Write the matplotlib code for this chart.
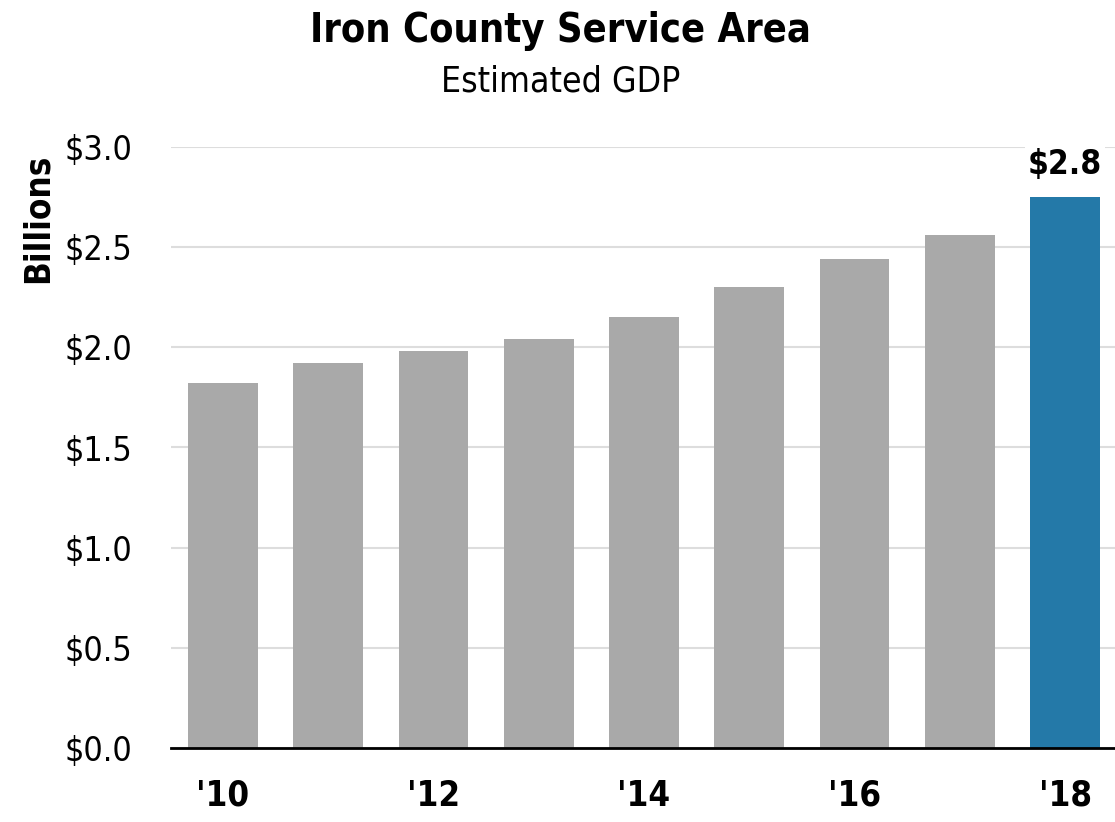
import matplotlib
matplotlib.use("Agg")
import matplotlib.pyplot as plt

years = [2010, 2011, 2012, 2013, 2014, 2015, 2016, 2017, 2018]
gdp = [1.82, 1.92, 1.98, 2.04, 2.15, 2.30, 2.44, 2.56, 2.75]
colors = ["#a9a9a9"] * 8 + ["#2479a8"]
yticks = [0.0, 0.5, 1.0, 1.5, 2.0, 2.5, 3.0]
ytick_labels = ["$0.0", "$0.5", "$1.0", "$1.5", "$2.0", "$2.5", "$3.0"]
xtick_idx = [0, 2, 4, 6, 8]
xtick_labels = ["'10", "'12", "'14", "'16", "'18"]

# condensed face, closest to the narrow font of the original
plt.rcParams["font.family"] = ["DejaVu Sans"]
plt.rcParams["font.stretch"] = "condensed"

fig = plt.figure(figsize=(11.15, 8.22), dpi=100)
ax = fig.add_axes([171 / 1115, 74 / 822, 1 - 171 / 1115, (748 - 147) / 822])

x = list(range(len(years)))
ax.bar(x, gdp, width=0.665, color=colors, zorder=2)
ax.set_ylim(0, 3.0)
ax.set_xlim(-0.494, 8.475)
ax.set_yticks(yticks)
ax.set_yticklabels(ytick_labels, fontsize=24.5)
ax.set_xticks(xtick_idx)
ax.set_xticklabels(xtick_labels, fontsize=25, fontweight="bold")
ax.tick_params(axis="both", length=0, colors="black")
ax.tick_params(axis="x", pad=22)
ax.tick_params(axis="y", pad=28)
ax.grid(axis="y", color="#dddddd", linewidth=1.5, zorder=0)
for s in ["top", "right", "left"]:
    ax.spines[s].set_visible(False)
ax.spines["bottom"].set_linewidth(2)
ax.spines["bottom"].set_zorder(3)

ax.text(x[-1], gdp[-1] + 0.08, "$%.1f" % gdp[-1], ha="center", va="bottom",
        fontsize=24, fontweight="bold",
        bbox=dict(facecolor="white", edgecolor="none", pad=2), zorder=3)

fig.text(0.034, (822 - 218) / 822, "Billions", rotation=90, ha="center", va="center",
         fontsize=25, fontweight="bold")
fig.text(0.503, 1 - 31 / 822, "Iron County Service Area", ha="center", va="center",
         fontsize=28.5, fontweight="bold")
fig.text(0.503, 1 - 82 / 822, "Estimated GDP", ha="center", va="center", fontsize=25.5)

fig.savefig("out.png", dpi=100)
